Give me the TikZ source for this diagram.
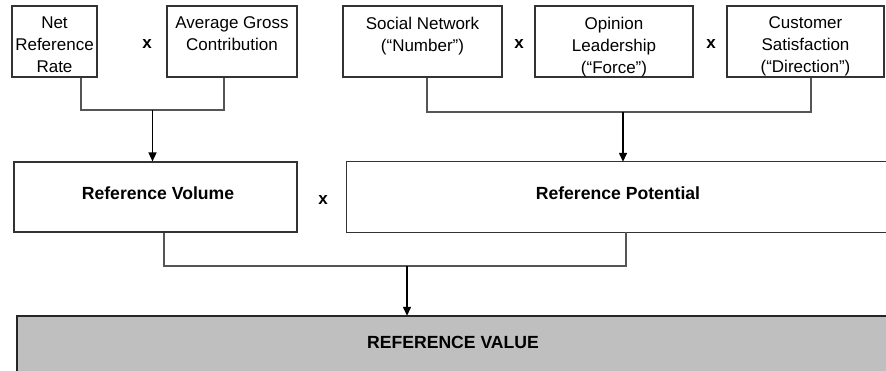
\documentclass[tikz,border=0pt]{standalone}
\usepackage{fontspec}
\setmainfont{Liberation Sans}
\usetikzlibrary{arrows.meta}
\definecolor{boxgray}{HTML}{BFBFBF}
\definecolor{linegray}{HTML}{555555}
\definecolor{edgecol}{HTML}{333333}
\begin{document}
\begin{tikzpicture}[x=1pt,y=-1pt,
  boxnode/.style={draw=edgecol,line width=1.1pt,inner sep=0pt,minimum height=71pt},
  plainbox/.style={inner sep=0pt},
  edgeline/.style={draw=edgecol,line width=1.1pt},
  txt/.style={inner sep=0pt,align=center,font=\fontsize{17}{22}\selectfont},
  toptxt/.style={txt,anchor=north},
  multxt/.style={inner sep=0pt,font=\fontsize{17}{22}\selectfont\bfseries},
  boldtxt/.style={inner sep=0pt,font=\fontsize{17.6}{22}\selectfont\bfseries},
  conn/.style={draw=linegray,line width=1.4pt},
  arr/.style={draw=black,line width=1.4pt,-{Triangle[length=9pt,width=8pt]}}
]
\useasboundingbox (0,0) rectangle (886,371);
% top row boxes
\node[boxnode,minimum width=85pt] (nrr) at (54.5,41.5) {};
\node[boxnode,minimum width=130pt] (agc) at (232,41.5) {};
\node[boxnode,minimum width=159pt] (sn) at (422.5,41.5) {};
\node[boxnode,minimum width=158pt] (ol) at (614,41.5) {};
\node[boxnode,minimum width=157pt] (cs) at (805.5,41.5) {};
\node[toptxt] (nrrt) at (54.5,16.5) {Net\\Reference\\Rate};
\node[toptxt] (agct) at (232,16.5) {Average Gross\\Contribution};
\node[toptxt] (snt) at (422.5,16.5) {Social Network\\(“Number”)};
\node[toptxt] (olt) at (614,16.5) {Opinion\\Leadership\\(“Force”)};
\node[toptxt] (cst) at (805.5,16.5) {Customer\\Satisfaction\\(“Direction”)};
\node[multxt] (x1) at (147,44) {x};
\node[multxt] (x2) at (519,44) {x};
\node[multxt] (x3) at (711,44) {x};
% middle row
\node[boxnode,minimum width=283pt,minimum height=70pt] (rv) at (155.5,197) {};
\node[plainbox,minimum width=539pt,minimum height=70pt] (rp) at (616.5,197) {};
\draw[edgeline] (rp.north east) -- (rp.north west) -- (rp.south west) -- (rp.south east);
\node[boldtxt] (rvt) at (158,193) {Reference Volume};
\node[boldtxt] (rpt) at (618,193) {Reference Potential};
\node[multxt] (x4) at (323,200) {x};
% bottom box
\node[plainbox,fill=boxgray,minimum width=869pt,minimum height=55pt] (rval) at (451.5,343.5) {};
\draw[draw=black!85,line width=1.8pt] (rval.south west) -- (rval.north west) -- (rval.north east);
\node[boldtxt] (rvalt) at (453,342) {REFERENCE VALUE};
% connectors
\coordinate (j1) at (152.5,110);
\coordinate (j2) at (623,112);
\coordinate (j3) at (407,266);
\draw[conn] ([xshift=26.5pt]nrr.south) |- (j1) -| ([xshift=-8pt]agc.south);
\draw[arr] (j1) -- (rv.north -| j1);
\draw[conn] ([xshift=4.5pt]sn.south) |- (j2) -| ([xshift=5.5pt]cs.south);
\draw[arr] (j2) -- (rp.north -| j2);
\draw[conn] ([xshift=8.5pt]rv.south) |- (j3) -| (rp.south -| 626,0);
\draw[arr] (j3) -- (rval.north -| j3);
\end{tikzpicture}
\end{document}
